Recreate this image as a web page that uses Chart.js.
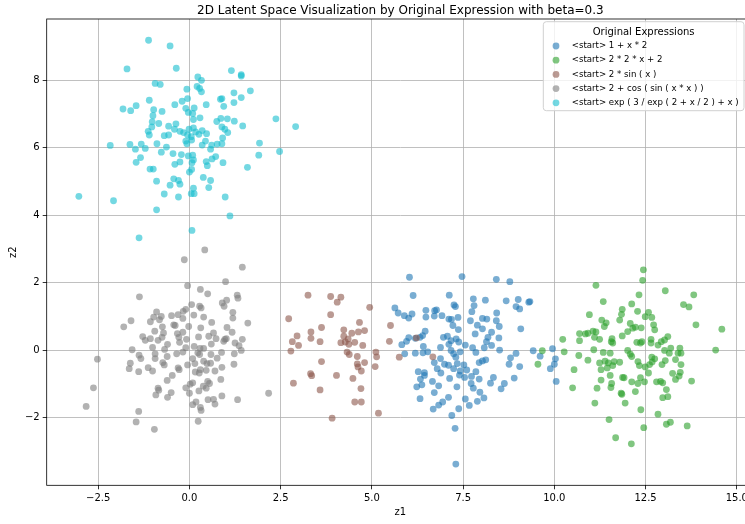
<!DOCTYPE html>
<html>
<head>
<meta charset="utf-8">
<script src="https://cdn.jsdelivr.net/npm/chart.js@4.4.1/dist/chart.umd.min.js"></script>
<style>
  html, body { margin: 0; padding: 0; background: #fff; overflow: hidden; }
  #wrap { width: 770px; height: 524px; }
</style>
</head>
<body>
<div id="wrap"><canvas id="latentChart" width="770" height="524"></canvas></div>
<script>
// legend names, in drawing order
const expressions = [
  '<start> 1 + x * 2',
  '<start> 2 * 2 * x + 2',
  '<start> 2 * sin ( x )',
  '<start> 2 + cos ( sin ( x * x ) )',
  '<start> exp ( 3 / exp ( 2 + x / 2 ) + x )'
];
const colors = ['31,119,180', '44,160,44', '140,86,75', '127,127,127', '23,190,207'];

const xTicks = [-2.5, 0, 2.5, 5, 7.5, 10, 12.5, 15];
const xTickLabels = ['\u22122.5', '0.0', '2.5', '5.0', '7.5', '10.0', '12.5', '15.0'];
const yTicks = [-2, 0, 2, 4, 6, 8];
const yTickLabels = ['\u22122', '0', '2', '4', '6', '8'];

// points, [z1, z2]
const linearPts = [[6.03,2.16],[7.47,2.18],[6.13,1.62],[7.12,1.63],[5.63,1.25],[5.72,1.10],[5.89,1.02],[6.01,0.95],[6.10,1.07],[6.48,1.18],[6.48,0.98],[6.72,1.17],[6.77,1.19],[6.71,1.01],[6.92,1.02],[7.25,1.34],[7.29,1.29],[7.11,0.92],[7.18,0.91],[7.36,0.97],[7.70,0.87],[7.22,0.73],[7.37,0.61],[6.46,0.56],[6.39,0.43],[6.32,0.38],[6.19,0.35],[6.01,0.37],[5.95,0.26],[5.82,0.16],[6.96,0.38],[7.07,0.41],[7.11,0.17],[7.17,0.28],[7.31,0.33],[7.38,0.24],[7.56,0.15],[6.41,0.11],[6.88,0.08],[5.90,-0.11],[6.19,-0.09],[6.40,-0.08],[6.53,-0.05],[6.71,-0.37],[7.24,-0.11],[7.30,-0.21],[7.17,-0.01],[7.42,-0.05],[6.88,-0.25],[6.99,-0.42],[6.79,-0.55],[6.89,-0.68],[7.10,-0.45],[7.24,-0.55],[7.34,-0.40],[7.52,-0.44],[7.60,-0.59],[7.42,-0.62],[7.40,-0.74],[7.54,-0.81],[7.73,-0.78],[6.27,-0.64],[6.44,-0.67],[6.44,-0.75],[6.33,-0.86],[6.66,-0.93],[6.83,-1.06],[6.23,-1.09],[6.37,-1.03],[7.13,-0.84],[7.33,-1.09],[7.72,-0.99],[6.71,-1.26],[7.10,-1.40],[6.32,-1.44],[7.56,-1.45],[7.67,-1.64],[6.94,-1.54],[6.83,-1.63],[6.68,-1.75],[7.38,-1.74],[7.19,-1.94],[7.28,-2.32],
  [8.41,2.10],[8.78,2.03],[7.78,1.52],[7.80,1.32],[8.11,1.48],[8.68,1.46],[9.01,1.50],[9.30,1.42],[9.33,1.44],[8.95,1.29],[9.05,1.22],[8.42,1.10],[7.74,1.14],[8.03,0.94],[8.15,0.92],[8.41,0.87],[8.49,0.70],[7.89,0.74],[8.03,0.63],[9.08,0.63],[7.83,0.48],[8.28,0.53],[8.48,0.36],[8.18,0.38],[8.14,0.25],[8.28,0.14],[8.08,0.07],[7.76,0.07],[7.85,-0.07],[8.50,0.00],[8.95,-0.10],[8.80,-0.23],[9.42,-0.02],[9.61,-0.18],[9.95,0.04],[10.03,-0.26],[10.00,-0.42],[9.89,-0.55],[10.05,-0.93],[8.12,-0.29],[8.03,-0.32],[7.94,-0.37],[8.76,-0.42],[9.05,-0.49],[7.85,-0.64],[8.90,-0.83],[8.33,-0.81],[8.25,-0.98],[7.94,-0.86],[8.63,-0.99],[8.54,-1.15],[7.78,-1.13],[7.96,-1.25],[8.07,-1.42],[7.89,-1.52],[7.30,-3.38]];

const doubledPts = [[10.23,0.32],[10.27,-0.05],[9.67,-0.02],[9.55,-0.42],[10.54,-0.58],[10.50,-1.12],[10.69,0.49],[10.69,0.28],[10.67,-0.16],
  [12.44,2.38],[12.42,2.07],[11.14,1.92],[12.32,1.64],[11.34,1.44],[12.12,1.37],[11.86,1.21],[10.96,1.05],[11.84,1.06],[12.28,1.15],[12.58,1.12],[12.49,0.99],[12.67,0.97],[11.79,0.89],[11.30,0.89],[11.42,0.81],[11.37,0.70],[12.08,0.79],[12.15,0.65],[12.22,0.68],[12.01,0.55],[12.38,0.66],[12.72,0.75],[12.75,0.60],[10.85,0.48],[10.92,0.50],[11.06,0.56],[11.14,0.54],[11.10,0.38],[11.24,0.32],[11.86,0.42],[11.58,0.34],[11.60,0.21],[11.56,0.25],[12.26,0.23],[12.36,0.21],[12.40,0.25],[12.65,0.32],[12.65,0.21],[11.08,0.01],[11.34,-0.07],[11.53,-0.09],[12.01,-0.01],[12.08,-0.12],[12.12,-0.19],[10.92,-0.30],[11.24,-0.38],[11.39,-0.33],[11.48,-0.38],[11.64,-0.34],[11.79,-0.36],[11.60,-0.46],[11.45,-0.53],[11.28,-0.58],[12.29,-0.34],[12.33,-0.46],[12.49,-0.50],[12.61,-0.43],[12.67,-0.21],[12.68,-0.35],[12.58,-0.68],[11.53,-0.75],[11.87,-0.81],[11.91,-0.82],[12.12,-0.94],[12.36,-0.82],[12.29,-0.99],[12.47,-0.94],[12.80,-0.94],[11.28,-0.89],[11.57,-0.99],[11.55,-1.11],[11.17,-1.13],[11.83,-1.28],[11.85,-1.31],[12.22,-1.23],[11.94,-1.57],[11.11,-1.57],[12.37,-1.77],[11.50,-2.06],[12.45,-2.30],[11.68,-2.60],[12.11,-2.78],
  [13.04,1.76],[13.82,1.64],[13.54,1.35],[13.69,1.28],[13.88,0.75],[14.59,0.62],[13.11,0.40],[13.02,0.30],[12.93,0.25],[12.84,0.15],[13.19,0.06],[13.44,0.06],[13.02,-0.01],[13.15,-0.09],[13.47,-0.09],[13.39,-0.09],[14.42,0.00],[12.75,-0.26],[13.32,-0.28],[13.04,-0.31],[13.47,-0.43],[12.95,-0.43],[13.24,-0.69],[13.45,-0.66],[13.42,-0.77],[13.32,-0.87],[12.91,-0.93],[12.97,-0.97],[13.76,-0.92],[13.07,-1.17],[13.11,-1.38],[12.97,-1.41],[12.84,-1.90],[13.07,-2.20],[13.18,-2.14],[13.64,-2.25]];

const sinePts = [[3.25,1.63],[3.87,1.59],[4.15,1.57],[4.05,1.42],[4.94,1.27],[2.72,0.93],[3.87,1.05],[4.66,0.82],[3.62,0.67],[3.33,0.54],[4.23,0.60],[4.45,0.50],[4.63,0.54],[4.80,0.58],[2.95,0.42],[3.33,0.35],[4.23,0.41],[4.35,0.33],[2.82,0.25],[2.99,0.14],[3.58,0.25],[4.15,0.22],[4.27,0.24],[4.37,0.17],[4.53,0.23],[4.75,0.14],[5.51,0.73],[5.48,0.26],[6.22,0.36],[2.78,-0.03],[4.32,-0.06],[4.38,-0.13],[5.11,-0.06],[5.13,-0.20],[4.60,-0.19],[5.75,-0.21],[3.62,-0.34],[4.80,-0.37],[4.60,-0.41],[4.62,-0.50],[4.71,-0.62],[5.09,-0.49],[3.32,-0.70],[3.35,-0.76],[4.03,-0.75],[4.48,-0.84],[2.85,-0.98],[3.58,-1.18],[4.70,-1.14],[4.53,-1.54],[4.71,-1.54],[5.18,-1.87],[3.91,-2.02],[6.67,-0.20]];

const cosinePts = [[-0.14,2.68],[0.42,2.97],[1.45,2.46],[0.99,2.03],[-0.05,1.91],[0.30,1.80],[0.50,1.67],[-1.37,1.58],[1.31,1.63],[1.33,1.54],[1.02,1.48],[0.90,1.40],[0.95,1.30],[0.06,1.35],[0.28,1.30],[0.32,1.25],[-0.10,1.21],[-0.17,1.15],[-0.90,1.13],[1.19,1.12],[0.12,1.04],[0.39,0.98],[-0.49,1.02],[-0.31,1.05],[-0.98,0.98],[-0.77,1.00],[-0.82,0.90],[-0.18,0.94],[1.19,0.95],[-1.60,0.87],[-1.80,0.69],[-1.07,0.84],[-0.43,0.75],[-0.39,0.73],[0.61,0.82],[1.60,0.80],[-0.02,0.70],[0.31,0.66],[1.03,0.67],[1.17,0.53],[-0.74,0.69],[-0.95,0.56],[-0.71,0.51],[-0.33,0.49],[-0.18,0.53],[0.66,0.51],[-1.28,0.40],[-1.07,0.34],[-0.86,0.29],[-1.21,0.29],[-0.75,0.38],[-0.29,0.38],[-0.08,0.32],[0.25,0.39],[0.53,0.41],[0.73,0.34],[0.97,0.32],[0.94,0.26],[1.01,0.34],[1.45,0.32],[-0.27,0.23],[-0.60,0.17],[-1.01,0.08],[-0.10,0.07],[0.13,0.11],[0.60,0.18],[1.25,0.21],[1.36,0.13],[-1.57,0.01],[-0.68,0.02],[0.29,0.05],[0.39,0.05],[0.23,-0.08],[0.28,-0.13],[-0.18,-0.06],[-0.35,-0.11],[0.88,-0.07],[0.59,-0.13],[1.23,-0.11],[1.42,-0.01],[-0.94,-0.11],[-1.38,-0.15],[-1.33,-0.25],[-2.52,-0.27],[-0.61,-0.19],[-0.94,-0.25],[0.09,-0.25],[0.39,-0.33],[0.76,-0.24],[-1.62,-0.39],[-0.73,-0.37],[-0.69,-0.44],[-0.05,-0.44],[0.15,-0.40],[0.48,-0.40],[0.58,-0.39],[1.22,-0.42],[-1.65,-0.55],[-1.13,-0.52],[-1.39,-0.64],[-1.01,-0.62],[-0.31,-0.53],[-0.28,-0.58],[0.30,-0.58],[0.89,-0.51],[0.16,-0.65],[0.27,-0.68],[0.46,-0.60],[0.70,-0.62],[-0.47,-0.75],[-0.61,-0.90],[0.86,-0.87],[0.09,-0.97],[0.02,-1.01],[0.50,-0.93],[0.55,-0.99],[0.38,-1.07],[0.46,-1.13],[-0.10,-1.12],[-0.86,-1.13],[-0.84,-1.19],[0.26,-1.21],[0.00,-1.28],[-0.50,-1.26],[-2.63,-1.12],[-0.92,-1.33],[0.89,-1.36],[2.17,-1.28],[-0.60,-1.40],[0.51,-1.47],[0.66,-1.46],[1.32,-1.47],[0.18,-1.54],[0.09,-1.62],[0.70,-1.60],[0.30,-1.70],[0.32,-1.79],[-2.83,-1.67],[-1.39,-1.82],[0.24,-2.11],[-1.46,-2.13],[-0.96,-2.35]];

const expPts = [[-1.12,9.19],[-0.53,9.02],[-1.71,8.34],[-0.36,8.36],[1.15,8.29],[1.42,8.17],[1.42,8.13],[0.23,8.10],[0.33,8.00],[-0.94,7.91],[-0.80,7.88],[0.21,7.82],[0.28,7.76],[0.33,7.66],[-0.07,7.74],[1.67,7.69],[1.22,7.63],[-1.10,7.41],[-0.05,7.46],[-0.20,7.38],[0.89,7.46],[0.85,7.44],[1.42,7.49],[1.22,7.34],[-1.82,7.15],[-1.61,7.10],[-1.46,7.25],[-0.40,7.28],[-0.10,7.17],[0.13,7.18],[0.46,7.28],[0.94,7.23],[-0.98,7.13],[-0.75,7.08],[-1.00,6.95],[-0.03,7.05],[0.09,7.02],[0.29,6.89],[0.11,6.84],[-1.02,6.77],[-0.84,6.72],[0.75,6.78],[0.86,6.87],[1.04,6.86],[1.23,6.79],[1.46,6.65],[2.37,6.86],[2.91,6.63],[0.89,6.62],[0.97,6.55],[1.05,6.45],[-1.03,6.62],[-1.13,6.49],[-1.10,6.38],[-0.57,6.64],[-0.37,6.71],[-0.41,6.55],[-0.26,6.49],[-0.16,6.45],[-0.01,6.55],[0.11,6.59],[0.17,6.47],[0.35,6.51],[0.47,6.42],[-0.69,6.36],[-0.57,6.38],[-0.05,6.38],[0.05,6.33],[0.26,6.40],[0.91,6.29],[0.44,6.20],[-0.10,6.20],[0.06,6.23],[-0.07,6.12],[-2.17,6.07],[-1.63,6.10],[-1.32,6.11],[-1.48,5.96],[-1.21,5.98],[-0.89,6.12],[-0.63,6.02],[-0.77,5.87],[0.61,6.08],[0.76,6.11],[0.89,6.12],[0.58,5.96],[0.35,6.08],[1.92,6.14],[2.47,5.89],[1.90,5.78],[-0.45,5.83],[-0.22,5.80],[-0.03,5.76],[0.09,5.78],[0.72,5.74],[0.62,5.67],[-1.34,5.71],[-1.46,5.57],[0.11,5.64],[0.07,5.56],[0.46,5.59],[0.49,5.47],[0.92,5.56],[-0.40,5.51],[-0.26,5.58],[-1.08,5.37],[-0.99,5.37],[0.06,5.36],[0.00,5.28],[1.59,5.42],[-0.90,5.01],[-0.43,5.08],[-0.30,5.03],[-0.26,4.92],[-0.53,4.89],[0.38,5.12],[0.58,5.03],[0.53,4.82],[0.11,4.80],[0.05,4.64],[0.13,4.64],[-0.69,4.63],[-0.30,4.54],[-3.03,4.56],[-2.08,4.43],[0.98,4.54],[-0.90,4.16],[1.11,3.98],[0.07,3.55],[-1.38,3.33]];

const allSeries = [linearPts, doubledPts, sinePts, cosinePts, expPts];
const chartTitle = '2D Latent Space Visualization by Original Expression with beta=0.3';
const legendTitle = 'Original Expressions';

const FONT = '"DejaVu Sans", sans-serif';
const DOT = 3.4;

let datasets = allSeries.map((pts, i) => ({
  label: expressions[i],
  data: pts.map(p => ({ x: p[0], y: p[1] })),
  backgroundColor: 'rgba(' + colors[i] + ',0.6)',
  borderWidth: 0,
  pointRadius: DOT,
  pointHoverRadius: DOT,
  order: allSeries.length - i   // later series on top, like matplotlib
}));

// frame, title, axis names and the legend box drawn like matplotlib
const mplExtras = {
  id: 'mplExtras',
  afterDraw(chart) {
    const ctx = chart.ctx;
    const a = chart.chartArea;
    ctx.save();
    ctx.strokeStyle = '#000';
    ctx.lineWidth = 0.8;
    ctx.strokeRect(a.left, a.top, a.right - a.left, a.bottom - a.top);

    ctx.fillStyle = '#000';
    ctx.textAlign = 'center';
    ctx.textBaseline = 'alphabetic';
    ctx.font = '12px ' + FONT;
    ctx.fillText(chartTitle, (a.left + a.right) / 2, 13.5);

    ctx.font = '10px ' + FONT;
    ctx.textBaseline = 'middle';
    ctx.fillText('z1', (a.left + a.right) / 2, 512.5);
    ctx.save();
    ctx.translate(13, (a.top + a.bottom) / 2);
    ctx.rotate(-Math.PI / 2);
    ctx.fillText('z2', 0, 0);
    ctx.restore();

    // legend
    let boxW = 200.7, boxH = 89;
    let bx = a.right - 10 - boxW, by = a.top + 2.7;
    ctx.beginPath();
    ctx.roundRect(bx, by, boxW, boxH, 3);
    ctx.fillStyle = 'rgba(255,255,255,0.8)';
    ctx.fill();
    ctx.strokeStyle = '#d0d0d0';
    ctx.lineWidth = 1;
    ctx.stroke();

    ctx.fillStyle = '#000';
    ctx.textBaseline = 'alphabetic';
    ctx.font = '10px ' + FONT;
    ctx.fillText(legendTitle, bx + boxW / 2, by + 13.2);

    ctx.textAlign = 'left';
    ctx.textBaseline = 'middle';
    ctx.font = '8.6px ' + FONT;
    expressions.forEach((name, i) => {
      let cy = by + 24.3 + i * 14.2;
      ctx.beginPath();
      ctx.arc(bx + 12.7, cy, DOT, 0, Math.PI * 2);
      ctx.fillStyle = 'rgba(' + colors[i] + ',0.6)';
      ctx.fill();
      ctx.fillStyle = '#000';
      ctx.fillText(name, bx + 28.4, cy);
    });
    ctx.restore();
  }
};

const tickFont = { family: FONT, size: 10 };

new Chart(document.getElementById('latentChart'), {
  type: 'scatter',
  data: { datasets: datasets },
  options: {
    responsive: false,
    animation: false,
    events: [],
    layout: { padding: { left: 0, top: 19, right: 16, bottom: 0 } },
    plugins: {
      legend: { display: false },
      tooltip: { enabled: false },
      title: { display: false }
    },
    scales: {
      x: {
        type: 'linear',
        min: -3.911,
        max: 15.471,
        afterBuildTicks: s => { s.ticks = xTicks.map(v => ({ value: v })); },
        afterFit: s => { s.height = 38.7; },
        ticks: {
          font: tickFont,
          color: '#000',
          padding: 3,
          maxRotation: 0,
          autoSkip: false,
          callback: (v, i) => xTickLabels[i]
        },
        grid: { color: '#b0b0b0', lineWidth: 0.8, tickLength: 4, tickColor: '#000', tickWidth: 0.8 },
        border: { display: false }
      },
      y: {
        type: 'linear',
        min: -4.01,
        max: 9.82,
        afterBuildTicks: s => { s.ticks = yTicks.map(v => ({ value: v })); },
        afterFit: s => { s.width = 46.7; },
        ticks: {
          font: tickFont,
          color: '#000',
          padding: 3,
          autoSkip: false,
          callback: (v, i) => yTickLabels[i]
        },
        grid: { color: '#b0b0b0', lineWidth: 0.8, tickLength: 4, tickColor: '#000', tickWidth: 0.8 },
        border: { display: false }
      }
    }
  },
  plugins: [mplExtras]
});
</script>
</body>
</html>
